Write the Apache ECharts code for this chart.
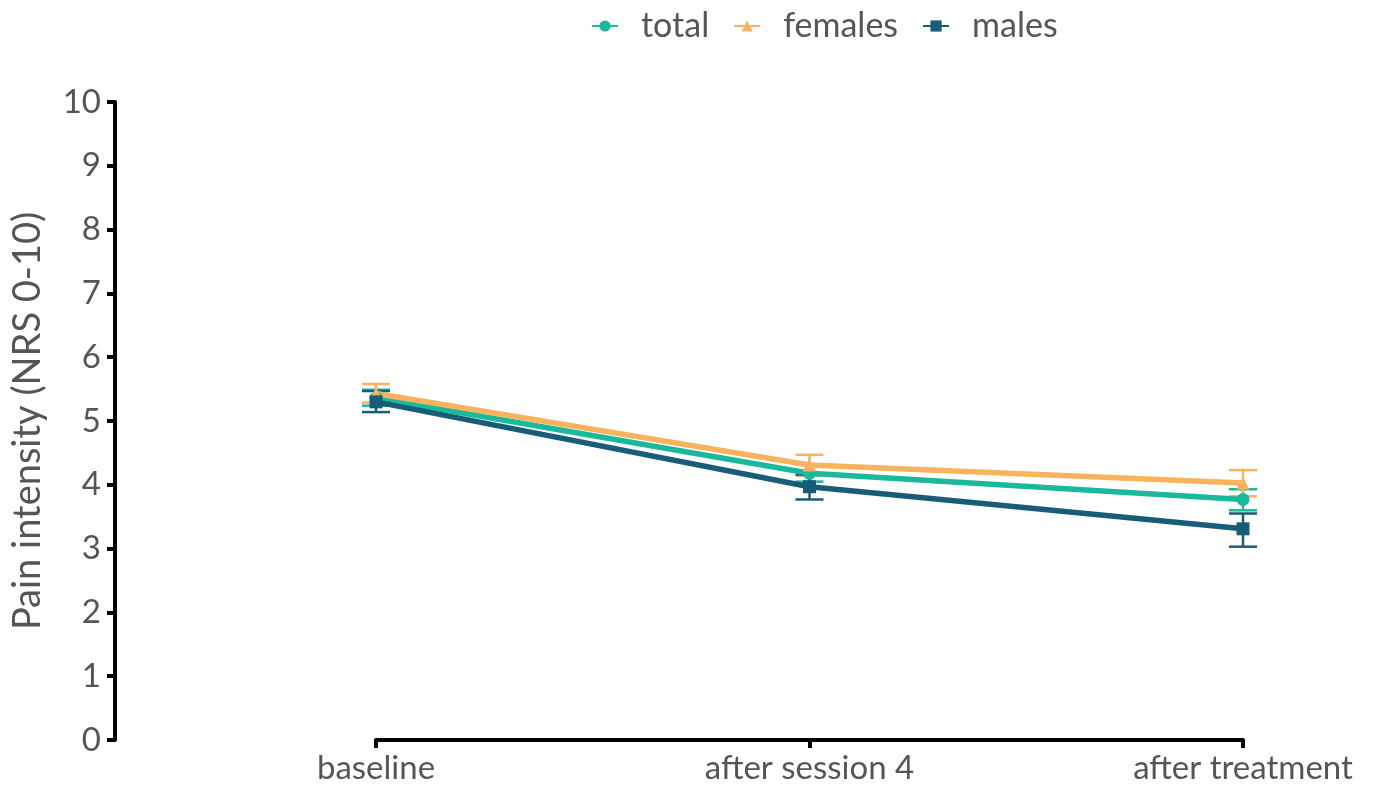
<!DOCTYPE html>
<html>
<head>
<meta charset="utf-8">
<script src="https://cdn.jsdelivr.net/npm/echarts@6/dist/echarts.min.js"></script>
<style>
  html, body { margin: 0; padding: 0; background: #fff; }
  #chart { width: 1374px; height: 786px; }
</style>
</head>
<body>
<div id="chart"></div>
<script>
const categories = ['baseline', 'after session 4', 'after treatment'];

const totalMean = [5.36, 4.18, 3.77];
const totalLow = [5.24, 4.05, 3.60];
const totalHigh = [5.49, 4.32, 3.93];

const femalesMean = [5.43, 4.31, 4.03];
const femalesLow = [5.29, 4.14, 3.82];
const femalesHigh = [5.58, 4.47, 4.23];

const malesMean = [5.30, 3.97, 3.31];
const malesLow = [5.14, 3.77, 3.03];
const malesHigh = [5.47, 4.16, 3.55];

const colors = ['#19b99b', '#f9b25e', '#175d77'];
const fontName = 'Lato';

const chart = echarts.init(document.getElementById('chart'));

// error bars drawn as custom series
function errorSeries(name, low, high, color) {
    return {
        name: name + ' err',
        type: 'custom',
        z: 1,
        silent: true,
        data: low.map((v, i) => [i, v, high[i]]),
        renderItem: (params, api) => {
            const lo = api.coord([api.value(0), api.value(1)]);
            const hi = api.coord([api.value(0), api.value(2)]);
            const w = 14;
            const style = { stroke: color, lineWidth: 2.5 };
            return {
                type: 'group',
                children: [
                    { type: 'line', shape: { x1: lo[0], y1: lo[1], x2: hi[0], y2: hi[1] }, style: style },
                    { type: 'line', shape: { x1: lo[0] - w, y1: lo[1], x2: lo[0] + w, y2: lo[1] }, style: style },
                    { type: 'line', shape: { x1: hi[0] - w, y1: hi[1], x2: hi[0] + w, y2: hi[1] }, style: style }
                ]
            };
        }
    };
}

function lineSeries(name, data, symbol, color) {
    return {
        name: name,
        type: 'line',
        data: data,
        z: 2,
        symbol: symbol,
        symbolSize: 13,
        itemStyle: { color: color },
        lineStyle: { color: color, width: 5.5 }
    };
}

const option = {
    animation: false,
    color: colors,
    legend: {
        top: 4,
        left: 586,
        data: ['total', 'females', 'males'],
        itemWidth: 26,
        itemHeight: 14,
        itemGap: 24,
        textStyle: { fontFamily: fontName, fontSize: 34, color: '#555', padding: [0, 0, 0, 18] }
    },
    grid: { left: 376, right: 131, top: 102, bottom: 46 },
    xAxis: {
        type: 'category',
        data: categories,
        boundaryGap: false,
        axisLine: { lineStyle: { color: '#000', width: 4 } },
        axisTick: { show: true, alignWithLabel: true, length: 8, lineStyle: { color: '#000', width: 4 } },
        axisLabel: { fontFamily: fontName, fontSize: 33, color: '#555', margin: 12 }
    },
    yAxis: {
        type: 'value',
        min: 0,
        max: 10,
        interval: 1,
        offset: 261,
        name: 'Pain intensity (NRS 0-10)',
        nameLocation: 'middle',
        nameGap: 68,
        nameTextStyle: { fontFamily: fontName, fontSize: 38, color: '#555' },
        axisLine: { show: true, lineStyle: { color: '#000', width: 4 } },
        axisTick: { show: true, length: 8, lineStyle: { color: '#000', width: 4 } },
        axisLabel: { fontFamily: fontName, fontSize: 33, color: '#555', margin: 14 },
        splitLine: { show: false }
    },
    series: [
        errorSeries('total', totalLow, totalHigh, colors[0]),
        errorSeries('females', femalesLow, femalesHigh, colors[1]),
        errorSeries('males', malesLow, malesHigh, colors[2]),
        lineSeries('total', totalMean, 'circle', colors[0]),
        lineSeries('females', femalesMean, 'triangle', colors[1]),
        lineSeries('males', malesMean, 'rect', colors[2])
    ]
};

chart.setOption(option);
</script>
</body>
</html>
